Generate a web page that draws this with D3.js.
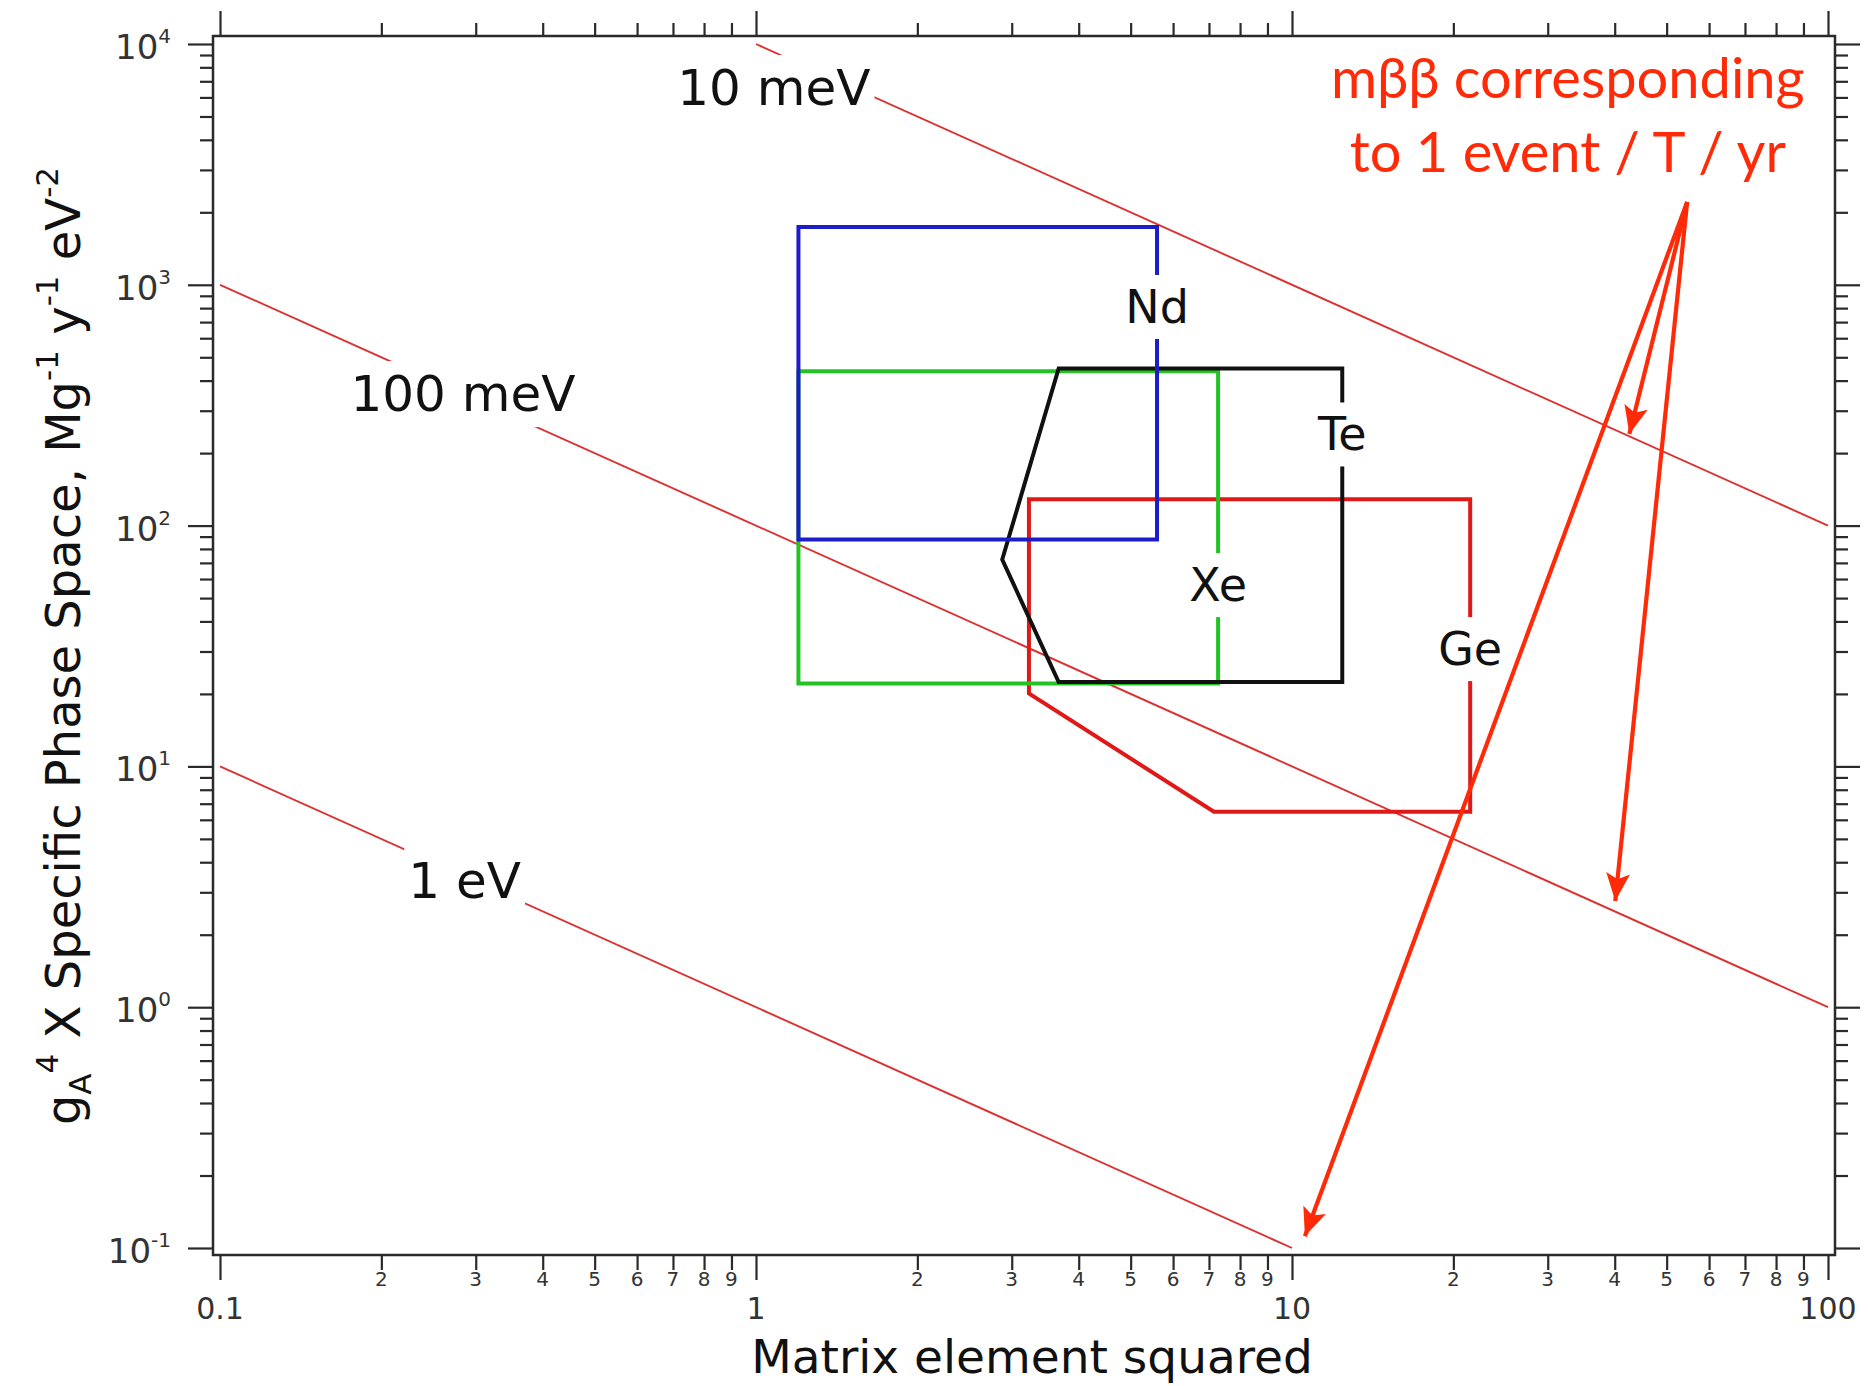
<!DOCTYPE html>
<html>
<head>
<meta charset="utf-8">
<script src="https://cdn.jsdelivr.net/npm/d3@7"></script>
<style>
  html, body { margin: 0; padding: 0; background: #fff; }
  svg { display: block; }
</style>
</head>
<body>
<svg id="chart" width="1869" height="1386"></svg>
<script>
// ---- axis ticks -------------------------------------------------------
const xMajorTicks  = [0.1, 1, 10, 100];
const xMajorLabels = ["0.1", "1", "10", "100"];
const yMajorTicks  = [0.1, 1, 10, 100, 1000, 10000];
const yExponents   = ["-1", "0", "1", "2", "3", "4"];

// ---- mββ lines giving 1 event / T / yr (end points in data units) -----
const massNames  = ["10 meV", "100 meV", "1 eV"];
const massLineX  = [[1, 100], [0.1, 100], [0.1, 10]];
const massLineY  = [[10000, 100], [1000, 1], [10, 0.1]];
const massLabelX = [1.08, 0.284, 0.286];
const massLabelY = [5585, 299, 2.84];

// ---- isotope regions (matrix element², g_A^4·G) -------------------------
const isotopeNames  = ["Ge", "Xe", "Te", "Nd"];
const isotopeColors = ["#e01818", "#22c322", "#111111", "#1c1cc8"];
const geRegion = [[3.23, 128.7], [21.5, 128.7], [21.5, 6.48], [7.15, 6.48], [3.23, 20.1]];
const xeRegion = [[1.2, 438], [7.28, 438], [7.28, 22.1], [1.2, 22.1]];
const teRegion = [[3.67, 449], [12.41, 449], [12.41, 22.4], [3.67, 22.4], [2.88, 72.3]];
const ndRegion = [[1.2, 1740], [5.6, 1740], [5.6, 87.6], [1.2, 87.6]];
const isotopeLabelX = [21.5, 7.28, 12.41, 5.6];
const isotopeLabelY = [30.7, 56.6, 239, 809];

// ---- annotation -------------------------------------------------------
const noteLines  = ["mββ corresponding", "to 1 event / T / yr"];
const noteX      = 32.7;
const noteY      = [5974, 2938];
const arrowFrom  = [54.6, 2208];
const arrowTipsX = [42.6, 40.1, 10.57];
const arrowTipsY = [240, 2.76, 0.112];

// ---- layout -----------------------------------------------------------
const plot  = { left: 220, right: 1828, top: 44, bottom: 1248 };
const frame = { left: 213, right: 1835, top: 36, bottom: 1255 };
const majorLen = 25, minorLen = 13;
const frameColor = "#2a2a2a";
const noteColor = "#ff2a08";

const svg = d3.select("#chart");

const x = d3.scaleLog().domain([0.1, 100]).range([plot.left, plot.right]);
const y = d3.scaleLog().domain([0.1, 10000]).range([plot.bottom, plot.top]);

const xMinor = x.ticks().filter(v => !xMajorTicks.some(m => Math.abs(m - v) < 1e-9 * m));
const yMinor = y.ticks().filter(v => !yMajorTicks.some(m => Math.abs(m - v) < 1e-9 * m));

// ---- frame and mirrored ticks ----------------------------------------
svg.append("rect")
  .attr("x", frame.left).attr("y", frame.top)
  .attr("width", frame.right - frame.left).attr("height", frame.bottom - frame.top)
  .attr("fill", "none").attr("stroke", frameColor).attr("stroke-width", 2.5);

function tickAxis(gen, scale, values, len, transform) {
  const g = svg.append("g").attr("transform", transform)
    .call(gen(scale).tickValues(values).tickSize(len).tickFormat(""));
  g.select(".domain").remove();
  g.selectAll(".tick line").attr("stroke", frameColor).attr("stroke-width", 2.2);
  return g;
}
tickAxis(d3.axisBottom, x, xMajorTicks, majorLen, `translate(0,${frame.bottom})`);
tickAxis(d3.axisBottom, x, xMinor, minorLen + 2, `translate(0,${frame.bottom})`);
tickAxis(d3.axisTop, x, xMajorTicks, majorLen, `translate(0,${frame.top})`);
tickAxis(d3.axisTop, x, xMinor, minorLen, `translate(0,${frame.top})`);
tickAxis(d3.axisLeft, y, yMajorTicks, majorLen, `translate(${frame.left},0)`);
tickAxis(d3.axisLeft, y, yMinor, minorLen, `translate(${frame.left},0)`);
tickAxis(d3.axisRight, y, yMajorTicks, majorLen, `translate(${frame.right},0)`);
tickAxis(d3.axisRight, y, yMinor, minorLen, `translate(${frame.right},0)`);

// ---- tick labels ------------------------------------------------------
const tickFont = "'DejaVu Sans', sans-serif";
svg.append("g").selectAll("text").data(xMinor).join("text")
  .attr("x", d => x(d)).attr("y", frame.bottom + 31)
  .attr("text-anchor", "middle")
  .attr("font-family", tickFont).attr("font-size", 20).attr("fill", "#333")
  .text(d => String(Math.round(d / Math.pow(10, Math.floor(Math.log10(d) + 1e-9)))));

svg.append("g").selectAll("text").data(xMajorTicks).join("text")
  .attr("x", d => x(d)).attr("y", frame.bottom + 64)
  .attr("text-anchor", "middle")
  .attr("font-family", tickFont).attr("font-size", 30).attr("fill", "#333")
  .text((d, i) => xMajorLabels[i]);

const yLab = svg.append("g").selectAll("text").data(yMajorTicks).join("text")
  .attr("x", frame.left - 42).attr("y", d => y(d) + 15)
  .attr("text-anchor", "end")
  .attr("font-family", tickFont).attr("fill", "#333");
yLab.append("tspan").attr("font-size", 34).text("10");
yLab.append("tspan").attr("font-size", 20).attr("dy", -16).text((d, i) => yExponents[i]);

// ---- axis titles ------------------------------------------------------
const titleFont = "'DejaVu Sans', sans-serif";
svg.append("text")
  .attr("x", 1032).attr("y", 1373)
  .attr("text-anchor", "middle")
  .attr("font-family", titleFont).attr("font-size", 47).attr("fill", "#111")
  .text("Matrix element squared");

const yTitle = svg.append("text")
  .attr("transform", "translate(80,646) rotate(-90)")
  .attr("text-anchor", "middle")
  .attr("font-family", titleFont).attr("font-size", 48).attr("fill", "#111");
const titleParts = [
  ["g", 0], ["A", 1], ["4", -1], [" X Specific Phase Space, Mg", 0],
  ["-1", -1], [" y", 0], ["-1", -1], [" eV", 0], ["-2", -1]
];
let shift = 0;
titleParts.forEach(([txt, lvl]) => {
  const target = lvl === 1 ? 11 : lvl === -1 ? -22 : 0;
  yTitle.append("tspan")
    .attr("dy", target - shift)
    .attr("font-size", lvl === 0 ? 48 : 31)
    .text(txt);
  shift = target;
});

// ---- mββ lines --------------------------------------------------------
const line = d3.line().x(d => x(d[0])).y(d => y(d[1]));
const linesG = svg.append("g");
massNames.forEach((name, i) => {
  const pts = massLineX[i].map((xv, j) => [xv, massLineY[i][j]]);
  linesG.append("path")
    .attr("d", line(pts))
    .attr("fill", "none").attr("stroke", "#dd3030").attr("stroke-width", 1.9);
});

// ---- isotope regions --------------------------------------------------
const regions = [geRegion, xeRegion, teRegion, ndRegion];
const closedLine = d3.line().x(d => x(d[0])).y(d => y(d[1])).curve(d3.curveLinearClosed);
const regG = svg.append("g");
regions.forEach((r, i) => {
  regG.append("path")
    .attr("d", closedLine(r))
    .attr("fill", "none")
    .attr("stroke", isotopeColors[i]).attr("stroke-width", 4)
    .attr("stroke-linejoin", "miter");
});

// ---- labels on a white patch that interrupts the lines beneath --------
function patchLabel(g, text, px, py, size, anchor, baseline, pad) {
  const grp = g.append("g");
  const t = grp.append("text")
    .attr("x", px).attr("y", py)
    .attr("text-anchor", anchor)
    .attr("dominant-baseline", baseline)
    .attr("font-family", titleFont).attr("font-size", size).attr("fill", "#111")
    .text(text);
  const bb = t.node().getBBox();
  grp.insert("rect", "text")
    .attr("x", bb.x - pad).attr("y", bb.y - pad)
    .attr("width", bb.width + 2 * pad).attr("height", bb.height + 2 * pad)
    .attr("fill", "#fff");
}
const labG = svg.append("g");
massNames.forEach((name, i) => {
  patchLabel(labG, name, x(massLabelX[i]), y(massLabelY[i]), 50, "middle", "alphabetic", 4);
});
isotopeNames.forEach((name, i) => {
  patchLabel(labG, name, x(isotopeLabelX[i]), y(isotopeLabelY[i]), 46, "middle", "central", 5);
});

// ---- annotation with arrows -------------------------------------------
const defs = svg.append("defs");
defs.append("marker")
  .attr("id", "head")
  .attr("markerUnits", "userSpaceOnUse")
  .attr("viewBox", "0 0 28 24")
  .attr("markerWidth", 28).attr("markerHeight", 24)
  .attr("refX", 28).attr("refY", 12)
  .attr("orient", "auto")
  .append("path")
  .attr("d", "M0,0 L28,12 L0,24 L6,12 Z")
  .attr("fill", noteColor);

const arrG = svg.append("g");
arrowTipsX.forEach((tx, i) => {
  const x0 = x(arrowFrom[0]), y0 = y(arrowFrom[1]);
  const x1 = x(tx), y1 = y(arrowTipsY[i]);
  arrG.append("line")
    .attr("x1", x0).attr("y1", y0).attr("x2", x1).attr("y2", y1)
    .attr("stroke", noteColor).attr("stroke-width", 4.2)
    .attr("stroke-linecap", "butt")
    .attr("marker-end", "url(#head)");
});

const note = svg.append("g");
noteLines.forEach((txt, i) => {
  note.append("text")
    .attr("x", x(noteX)).attr("y", y(noteY[i]))
    .attr("text-anchor", "middle")
    .attr("font-family", "Lato, 'Open Sans', sans-serif")
    .attr("font-size", 56).attr("fill", noteColor)
    .text(txt);
});
</script>
</body>
</html>
